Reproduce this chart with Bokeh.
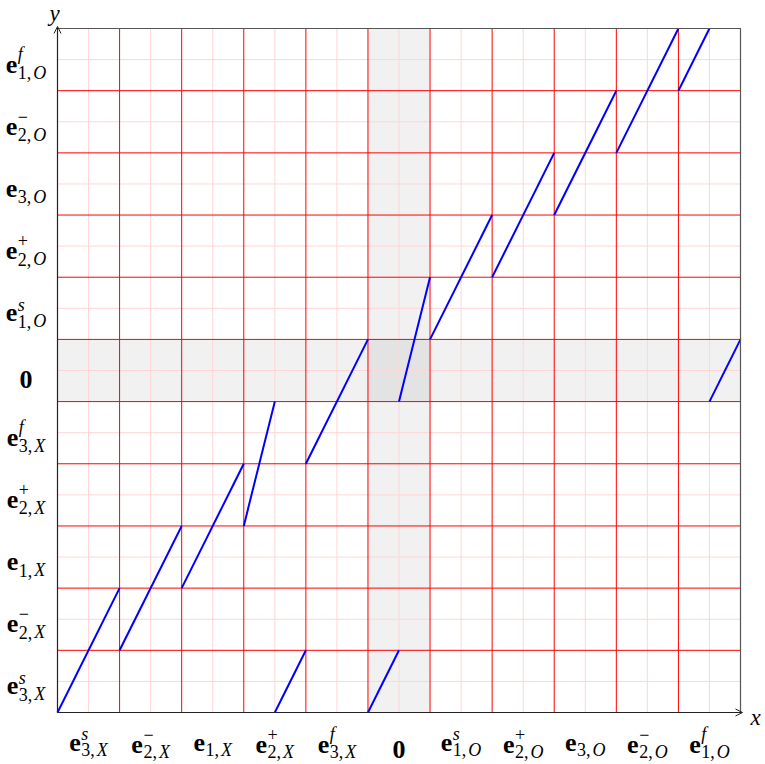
from bokeh.plotting import figure
from bokeh.models import Range1d, Label, Arrow, OpenHead
from bokeh.embed import file_html
from bokeh.resources import INLINE

# ---- data -------------------------------------------------------------
# tick categories (same on both axes): bold base, superscript, subscript number, subscript variable
tick_base = ["e", "e", "e", "e", "e", "0", "e", "e", "e", "e", "e"]
tick_sup = ["s", "\u2212", "", "+", "f", "", "s", "+", "", "\u2212", "f"]
tick_sub_num = ["3", "2", "1", "2", "3", "", "1", "2", "3", "2", "1"]
tick_sub_var = ["X", "X", "X", "X", "X", "", "O", "O", "O", "O", "O"]

# blue map segments, in cell units
seg_x0 = [0, 1, 2, 3, 3.5, 4, 5, 5.5, 6, 7, 8, 9, 10, 10.5]
seg_y0 = [0, 1, 2, 3, 0, 4, 0, 5, 6, 7, 8, 9, 10, 5]
seg_x1 = [1, 2, 3, 3.5, 4, 5, 5.5, 6, 7, 8, 9, 10, 10.5, 11]
seg_y1 = [2, 3, 4, 5, 1, 6, 1, 7, 8, 9, 10, 11, 11, 6]

# ---- layout -----------------------------------------------------------
n = len(tick_base)
W, H = 764, 763                 # canvas
GL, GT, GW, GH = 57, 28, 683, 684   # grid box inside canvas (px)
ppx = GW / n
ppy = GH / n
FONT = "'Liberation Serif', 'Times New Roman', serif"
F_MAIN = 26
F_SCR = 18

x_start = -GL / ppx
x_end = n + (W - GL - GW) / ppx
y_end = n + GT / ppy
y_start = -(H - GT - GH) / ppy

p = figure(
    x_range=Range1d(x_start, x_end), y_range=Range1d(y_start, y_end),
    width=W, height=H, min_border=0,
    toolbar_location=None, output_backend="svg",
    background_fill_color="white", border_fill_color="white",
)
p.axis.visible = False
p.grid.visible = False
p.outline_line_color = None

edges = list(range(n + 1))
mids = [i + 0.5 for i in range(n)]
zeros_e = [0] * len(edges)
full_e = [n] * len(edges)
zeros_m = [0] * len(mids)
full_m = [n] * len(mids)

# shaded zero row / column
zi = tick_base.index("0")
p.quad(left=[zi, 0], right=[zi + 1, n], bottom=[0, zi], top=[n, zi + 1],
       fill_color="black", fill_alpha=0.055, line_color=None)

# minor grid (pink) and major grid (red)
p.segment(x0=mids, y0=zeros_m, x1=mids, y1=full_m, line_color="#ffd6d6", line_width=1)
p.segment(x0=zeros_m, y0=mids, x1=full_m, y1=mids, line_color="#ffd6d6", line_width=1)
p.segment(x0=edges, y0=zeros_e, x1=edges, y1=full_e, line_color="#ff0000", line_width=1)
p.segment(x0=zeros_e, y0=edges, x1=full_e, y1=edges, line_color="#ff0000", line_width=1)

# map segments
p.segment(x0=seg_x0, y0=seg_y0, x1=seg_x1, y1=seg_y1, line_color="#0000ff", line_width=2)

# frame: top and right border, then axes with arrows
p.segment(x0=[0, n], y0=[n, 0], x1=[n, n], y1=[n, n], line_color="#555555", line_width=1.2)
p.add_layout(Arrow(end=OpenHead(size=7, line_width=1, line_color="#222222"),
                   x_start=0, y_start=0, x_end=n + 2 / ppx, y_end=0,
                   line_color="#222222", line_width=1.2))
p.add_layout(Arrow(end=OpenHead(size=7, line_width=1, line_color="#222222"),
                   x_start=0, y_start=0, x_end=0, y_end=n + 2 / ppy,
                   line_color="#222222", line_width=1.2))

# ---- tick labels (bold e with super/subscripts) -------------------------
EM = {"e": 0.444, "0": 0.5, "s": 0.389, "f": 0.278, "+": 0.564, "\u2212": 0.564,
      "X": 0.611, "O": 0.722}


def lab(x, y, text, size, style, align="left"):
    p.add_layout(Label(x=x, y=y, x_units="data", y_units="data", text=text,
                       text_font=FONT, text_font_size=f"{size}px", text_font_style=style,
                       text_align=align, text_baseline="alphabetic", text_color="black"))


def tick_label(i, cx, ey, sub_drop):
    # cx: label centre (data x); ey: baseline of the bold base (data y)
    we = EM["e"] * F_MAIN
    sup = tick_sup[i]
    supw = EM.get(sup, 0) * F_SCR
    subw = (0.75 * F_SCR + 2) + EM[tick_sub_var[i]] * F_SCR
    width = we + 0.5 + max(supw, subw)
    x0 = cx - (width / 2) / ppx
    lab(x0, ey, tick_base[i], F_MAIN, "bold")
    sx = x0 + (we + 0.5) / ppx
    if sup:
        up = 8 if sup == "s" else 10
        lab(sx, ey + up / ppy, sup, F_SCR, "italic" if sup.isalpha() else "normal")
    lab(sx, ey - sub_drop / ppy, tick_sub_num[i] + ",", F_SCR, "normal")
    lab(sx + (0.75 * F_SCR + 2) / ppx, ey - sub_drop / ppy, tick_sub_var[i], F_SCR, "italic")


for i in range(n):
    # x axis
    cx = i + 0.5
    if tick_base[i] == "0":
        lab(cx, -36.5 / ppy, "0", F_MAIN, "bold", "center")
    else:
        off = 31.5 if tick_sup[i] in ("+", "\u2212", "f") else 29.5
        tick_label(i, cx, -off / ppy, 7.5)
    # y axis
    cy = i + 0.5
    lx = -31.5 / ppx
    if tick_base[i] == "0":
        lab(lx, cy - 9 / ppy, "0", F_MAIN, "bold", "center")
    else:
        tick_label(i, lx, cy - 4.5 / ppy, 8.5)

# axis names
lab(n + 10 / ppx, -5 / ppy, "x", 23, "italic", "left")
lab(-3 / ppx, n + 15 / ppy, "y", 23, "italic", "center")

open("out.html", "w").write(file_html(p, INLINE))
